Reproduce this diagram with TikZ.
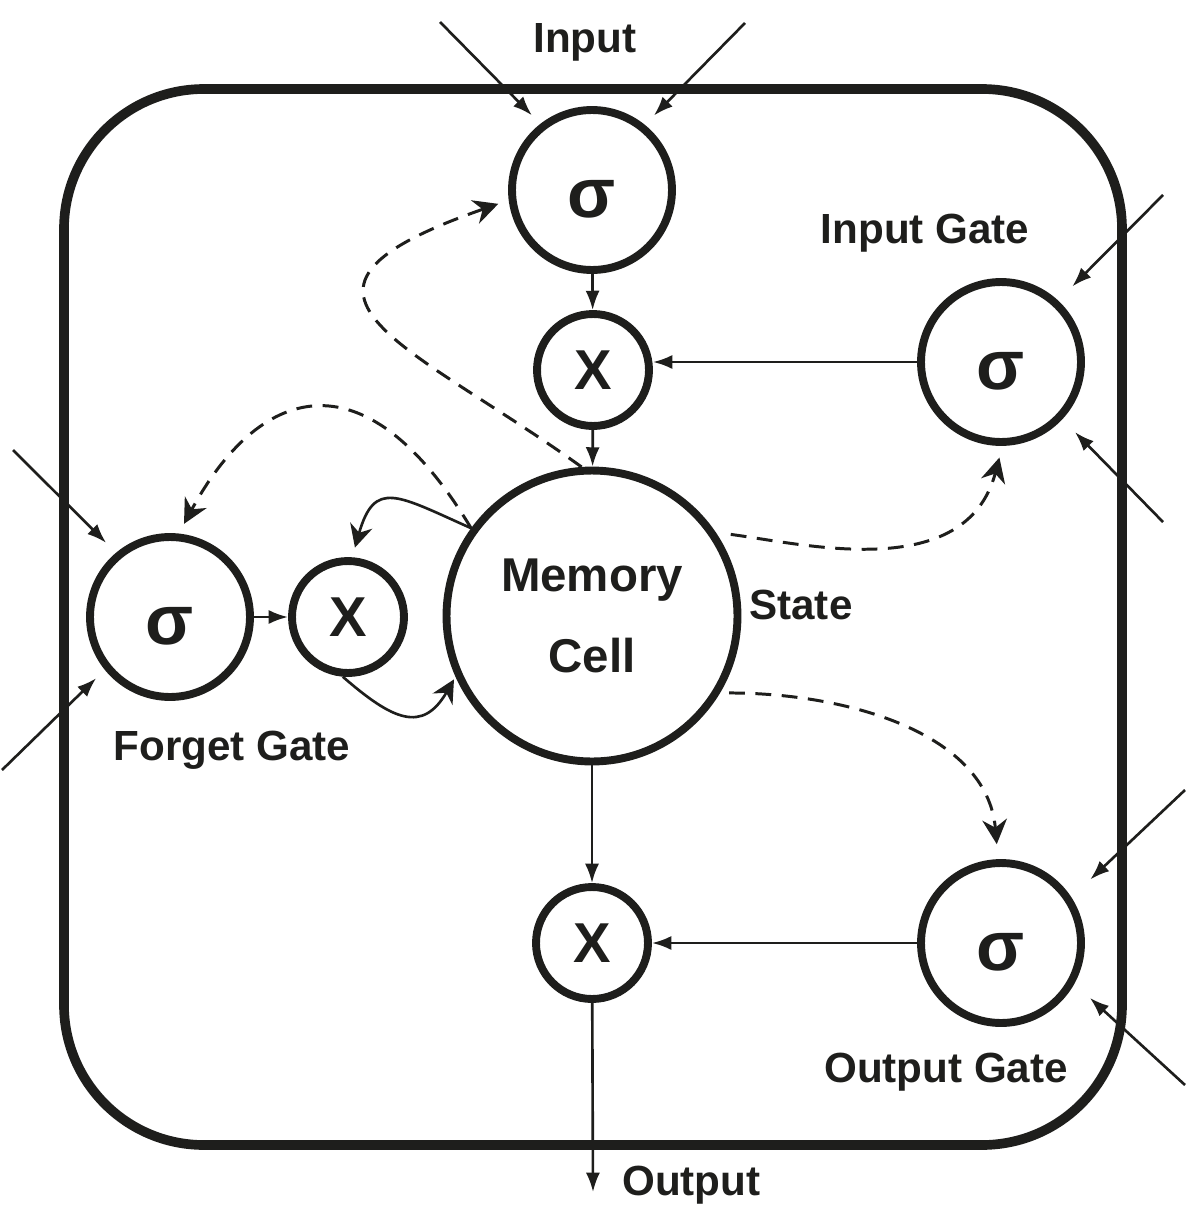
\documentclass[tikz,border=0pt]{standalone}
\usepackage{fontspec}
\setmainfont{Liberation Sans}
\usepackage{tikz}
\usetikzlibrary{arrows.meta}
\definecolor{ink}{RGB}{30,30,28}
\tikzset{>={Latex[length=11pt,width=8pt]}}
\tikzstyle{gate}=[circle, draw, line width=4.5pt, inner sep=0pt, minimum size=3.2cm, text height=31pt, text depth=0pt, font=\fontsize{40}{48}\selectfont\bfseries]
\tikzstyle{mult}=[circle, draw, line width=4.5pt, inner sep=0pt, minimum size=2.24cm, font=\fontsize{32}{38}\selectfont\bfseries]
\tikzstyle{cell}=[circle, draw, line width=4.5pt, inner sep=0pt, minimum size=5.82cm, align=center, font=\fontsize{27}{46.5}\selectfont\bfseries]
\tikzstyle{lbl}=[inner sep=0pt, anchor=base, font=\fontsize{24}{28}\selectfont\bfseries]
\tikzstyle{feed}=[->, line width=1.5pt]
\tikzstyle{peep}=[-{Stealth[length=14pt,width=14pt]}, line width=1.7pt, dash pattern=on 9pt off 6pt]
\tikzstyle{recur}=[-{Stealth[length=13pt,width=13pt]}, line width=1.5pt]
\newcommand{\gate}{\node[gate]}
\newcommand{\mult}{\node[mult]}

\begin{document}
\begin{tikzpicture}[x=0.02cm, y=-0.02cm, color=ink]
\useasboundingbox (0,0) rectangle (1187,1224);
\draw[line width=5.5pt, rounded corners=2.8cm] (64,89) rectangle (1122,1145);

\gate (ti) at (592,190) {σ};
\mult (tx) at (593,370) {X};
\gate (gi) at (1001,362) {σ};
\node[cell] (mem) at (592,616) {Memory\\Cell};
\gate (fs) at (170,617) {σ};
\mult (fx) at (348,617) {X};
\mult (ox) at (592,943) {X};
\gate (og) at (1001,943) {σ};

\node[lbl] (lin) at (585,52) {Input};
\node[lbl] (lig) at (925,243) {Input Gate};
\node[lbl, anchor=base west] (lst) at (749,619) {State};
\node[lbl] (lfg) at (232,760) {Forget Gate};
\node[lbl] (log) at (946,1082) {Output Gate};
\node[lbl, anchor=base west] (lout) at (622,1195) {Output};

% outside inputs
\coordinate (i1) at (440,22);
\coordinate (i2) at (745,23);
\coordinate (g1) at (1163,195);
\coordinate (g2) at (1163,522);
\coordinate (f1) at (13,450);
\coordinate (f2) at (2,770);
\coordinate (o1) at (1185,790);
\coordinate (o2) at (1185,1085);
\coordinate (out) at (593,1192);

\draw[feed, shorten >=0.24cm] (i1) -- (ti.128);
\draw[feed, shorten >=0.26cm] (i2) -- (ti.51);
\draw[feed, shorten >=0.4cm] (g1) -- (gi.47);
\draw[feed, shorten >=0.36cm] (g2) -- (gi.-43);
\draw[feed, shorten >=0.28cm] (f1) -- (fs.130);
\draw[feed, shorten >=0.24cm] (f2) -- (fs.219);
\draw[feed, shorten >=0.52cm] (o1) -- (og.33);
\draw[feed, shorten >=0.42cm] (o2) -- (og.-29);

\draw[feed] (ti) -- (tx);
\draw[feed] (tx) -- (mem);
\draw[feed] (gi.west) -- (gi.west -| tx.east);
\draw[feed] (fs) -- (fx);
\draw[feed] (mem) -- (ox);
\draw[feed] (og) -- (ox);
\draw[feed] (ox) -- (out);

% peepholes
\draw[peep, shorten >=0.22cm] (mem.94) .. controls (405,340) and (245,292) .. (ti.187);
\draw[peep, shorten >=0.22cm] (mem.144) .. controls (362,347) and (257,389) .. (fs.84);
\draw[peep, shorten <=0.3cm, shorten >=0.24cm] (mem.34) .. controls (804,544) and (966,584) .. (gi.-89);
\draw[peep, shorten <=0.18cm, shorten >=0.3cm] (mem.-31) to[out=0, in=95] (og.92);

% forget loop
\draw[recur, shorten >=0.2cm] (mem.144) to[out=156, in=74, looseness=1.7] (fx.86);
\draw[recur, shorten >=0.06cm] (fx.-95) to[out=-41, in=240, looseness=1.5] (mem.204);
\end{tikzpicture}
\end{document}
